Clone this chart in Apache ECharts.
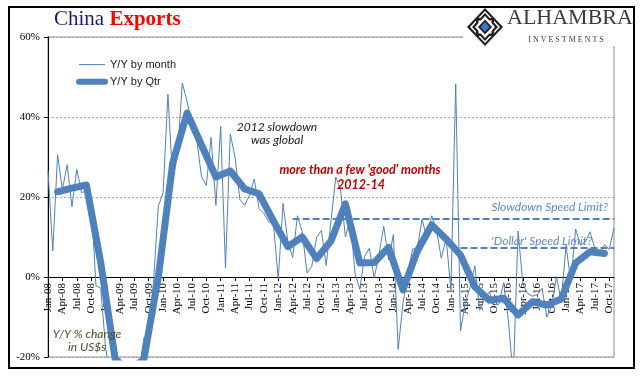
<!DOCTYPE html>
<html><head><meta charset="utf-8">
<script src="https://cdn.jsdelivr.net/npm/echarts@6/dist/echarts.min.js"></script>
<style>html,body{margin:0;padding:0;background:#fff}#c{width:641px;height:381px}</style>
</head><body><div id="c"></div>
<script>
// ---- categories ----
const monthNames = ['Jan','Feb','Mar','Apr','May','Jun','Jul','Aug','Sep','Oct','Nov','Dec'];
const years = ['08','09','10','11','12','13','14','15','16','17'];
const quarterEndMonths = ['Mar','Jun','Sep','Dec'];

// ---- monthly Y/Y % ----
const m2008 = [26.6, 6.5, 30.6, 21.8, 28.1, 17.6, 26.9, 21.1, 21.5, 19.2, -2.2, -2.8];
const m2009 = [-17.5, -25.7, -17.1, -22.6, -26.4, -21.4, -23.0, -23.4, -15.2, -13.8, -1.2, 17.7];
const m2010 = [21.0, 45.7, 24.3, 30.5, 48.5, 43.9, 38.1, 34.4, 25.1, 22.9, 34.9, 17.9];
const m2011 = [37.7, 2.3, 35.8, 29.9, 19.4, 17.9, 20.4, 24.5, 17.1, 15.9, 13.8, 13.4];
const m2012 = [-0.5, 18.4, 8.9, 4.9, 15.3, 11.3, 1.0, 2.7, 9.9, 11.6, 2.9, 14.1];
const m2013 = [25.0, 21.8, 10.0, 14.7, 1.0, -3.1, 5.1, 7.2, -0.3, 5.6, 12.7, 4.3];
const m2014 = [10.6, -18.1, -6.6, 0.9, 7.0, 7.2, 14.5, 9.4, 15.3, 11.6, 4.7, 9.7];
const m2015 = [-3.3, 48.3, -13.5, -6.4, -2.5, 2.8, -8.3, -5.5, -3.7, -6.9, -6.8, -1.4];
const m2016 = [-11.2, -25.4, 11.5, -1.8, -4.1, -4.8, -4.4, -2.8, -10.0, -7.3, 0.1, -6.1];
const m2017 = [7.9, -1.3, 12.0, 8.0, 8.7, 11.3, 7.2, 5.5, 8.1, 6.9, 12.3];

// ---- quarterly Y/Y % (quarter-end months) ----
const q2008 = [21.3, 22.2, 23.0, 3.5];
const q2009 = [-20.5, -23.5, -20.5, 0.0];
const q2010 = [28.5, 41.0, 33.0, 25.0];
const q2011 = [26.5, 22.0, 20.8, 14.0];
const q2012 = [7.6, 10.0, 4.6, 9.0];
const q2013 = [18.3, 3.5, 3.6, 7.4];
const q2014 = [-3.2, 6.5, 13.0, 9.5];
const q2015 = [5.5, -2.5, -5.8, -5.3];
const q2016 = [-9.5, -6.2, -7.0, -5.5];
const q2017 = [3.5, 6.3, 5.9];

// ---- reference lines ----
const slowdownLimit = {from: 'Apr-12', value: 14.5};
const dollarLimit = {from: 'Mar-15', value: 7.3};

const yTicks = {min: -20, max: 60, interval: 20};

// ---- build ----
const monthly = [m2008,m2009,m2010,m2011,m2012,m2013,m2014,m2015,m2016,m2017];
const quarterly = [q2008,q2009,q2010,q2011,q2012,q2013,q2014,q2015,q2016,q2017];
const categories = [];
const monthValues = [];
monthly.forEach((arr, yi) => arr.forEach((v, mi) => {
  categories.push(monthNames[mi] + '-' + years[yi]);
  monthValues.push(v);
}));
const qtrData = [];
quarterly.forEach((arr, yi) => arr.forEach((v, qi) => {
  qtrData.push([quarterEndMonths[qi] + '-' + years[yi], v]);
}));
const lastCat = categories[categories.length - 1];

const BLUE = '#4f81bd';
const chart = echarts.init(document.getElementById('c'), null, {renderer: 'canvas'});

const cx = 485, cy = 27;
function dia(sx, sy) { return [[cx, cy - sy], [cx + sx, cy], [cx, cy + sy], [cx - sx, cy]]; }
function sq(h) { return [[cx - h, cy - h], [cx + h, cy - h], [cx + h, cy + h], [cx - h, cy + h]]; }

chart.setOption({
  animation: false,
  backgroundColor: '#fff',
  grid: {left: 48, right: 27, top: 37, bottom: 24, show: true, borderColor: '#8c8c8c', borderWidth: 1,
         containLabel: false, outerBoundsMode: 'none'},
  legend: {
    left: 71, top: 54, orient: 'vertical', itemWidth: 26, itemHeight: 14, itemGap: 6,
    itemStyle: {opacity: 0},
    textStyle: {fontFamily: 'Liberation Sans', fontSize: 11, color: '#1a1a1a'},
    data: [
      {name: 'Y/Y by month', lineStyle: {width: 1, color: BLUE}},
      {name: 'Y/Y by Qtr', lineStyle: {width: 6, color: BLUE, cap: 'round'}}
    ]
  },
  xAxis: {
    type: 'category', data: categories, boundaryGap: false, position: 'bottom', offset: -80,
    axisLine: {onZero: false, lineStyle: {color: '#000', width: 1}},
    axisTick: {show: true, interval: 2, length: 4, lineStyle: {color: '#000'}},
    axisLabel: {interval: 2, rotate: 90, margin: 6, fontFamily: 'Liberation Serif', fontSize: 11, color: '#000'},
    splitLine: {show: false}
  },
  yAxis: {
    type: 'value', min: yTicks.min, max: yTicks.max, interval: yTicks.interval,
    axisLine: {show: true, lineStyle: {color: '#000', width: 1}},
    axisTick: {show: true, length: 4, lineStyle: {color: '#000'}},
    axisLabel: {formatter: '{value}%', margin: 8, fontFamily: 'Liberation Serif', fontSize: 11, color: '#000'},
    splitLine: {show: true, lineStyle: {color: '#a6a6a6', type: [2, 2], width: 1}}
  },
  series: [
    {
      name: 'Y/Y by Qtr', type: 'line', data: qtrData, symbol: 'none', z: 3,
      lineStyle: {color: BLUE, width: 7, cap: 'round', join: 'round'}, itemStyle: {color: BLUE},
      markLine: {
        silent: true, symbol: 'none', label: {show: false},
        lineStyle: {color: BLUE, width: 2, type: [7, 3]},
        data: [
          [{coord: [slowdownLimit.from, slowdownLimit.value]}, {coord: [lastCat, slowdownLimit.value]}],
          [{coord: [dollarLimit.from, dollarLimit.value]}, {coord: [lastCat, dollarLimit.value]}]
        ]
      }
    },
    {
      name: 'Y/Y by month', type: 'line', data: monthValues, symbol: 'none', z: 4,
      lineStyle: {color: BLUE, width: 1}, itemStyle: {color: BLUE}
    }
  ],
  graphic: [
    {type: 'rect', z: 100, shape: {x: 463, y: 9, width: 154, height: 37}, style: {fill: '#fff'}},
    {type: 'rect', z: 110, shape: {x: 9, y: 7, width: 625, height: 361}, style: {fill: 'none', stroke: '#000', lineWidth: 2}},
    {type: 'text', z: 110, x: 54, y: 30, style: {
      text: '{a|China }{b|Exports}', textVerticalAlign: 'bottom',
      rich: {
        a: {fontFamily: 'Liberation Serif', fontSize: 21, fill: '#1b1a7a', color: '#1b1a7a'},
        b: {fontFamily: 'Liberation Serif', fontSize: 21, fontWeight: 'bold', fill: '#ff0000', color: '#ff0000'}
      }}},
    // logo
    {type: 'polygon', z: 110, shape: {points: dia(18, 19)}, style: {fill: '#231f20'}},
    {type: 'polygon', z: 111, shape: {points: dia(15, 16)}, style: {fill: '#fff'}},
    {type: 'polygon', z: 112, shape: {points: dia(13, 14)}, style: {fill: '#231f20'}},
    {type: 'polygon', z: 112, shape: {points: sq(9)}, style: {fill: '#231f20'}},
    {type: 'polygon', z: 113, shape: {points: dia(10, 11)}, style: {fill: '#fff'}},
    {type: 'polygon', z: 113, shape: {points: sq(6.5)}, style: {fill: '#fff'}},
    {type: 'polygon', z: 114, shape: {points: dia(7, 7.5)}, style: {fill: '#231f20'}},
    {type: 'polygon', z: 115, shape: {points: dia(4.5, 5)}, style: {fill: '#3a78c9'}},
    {type: 'text', z: 110, x: 507, y: 29, style: {text: 'ALHAMBRA', font: '22px "Liberation Serif"', fill: '#3a3a3a', textVerticalAlign: 'bottom'}},
    {type: 'text', z: 110, x: 566, y: 40, style: {text: 'I N V E S T M E N T S', font: '8px "Liberation Serif"', fill: '#3a3a3a', textAlign: 'center', textVerticalAlign: 'middle'}},
    // annotations
    {type: 'text', z: 110, x: 277, y: 127, style: {text: '2012 slowdown', font: 'italic 12px Lato', fill: '#1a1a1a', textAlign: 'center', textVerticalAlign: 'middle'}},
    {type: 'text', z: 110, x: 277, y: 140, style: {text: 'was global', font: 'italic 12px Lato', fill: '#1a1a1a', textAlign: 'center', textVerticalAlign: 'middle'}},
    {type: 'text', z: 110, x: 360, y: 170, style: {text: "more than a few 'good' months", font: 'italic bold 12.5px Lato', fill: '#c00000', textAlign: 'center', textVerticalAlign: 'middle'}},
    {type: 'text', z: 110, x: 361, y: 185, style: {text: '2012-14', font: 'italic bold 12.5px Lato', fill: '#c00000', textAlign: 'center', textVerticalAlign: 'middle'}},
    {type: 'text', z: 110, x: 608, y: 207, style: {text: 'Slowdown Speed Limit?', font: 'italic 12px Lato', fill: '#5b8bd0', textAlign: 'right', textVerticalAlign: 'middle'}},
    {type: 'text', z: 110, x: 592, y: 241, style: {text: "'Dollar' Speed Limit?", font: 'italic 12px Lato', fill: '#5b8bd0', textAlign: 'right', textVerticalAlign: 'middle'}},
    {type: 'text', z: 110, x: 87, y: 334, style: {text: 'Y/Y % change', font: 'italic 12px Lato', fill: '#4f4a28', textAlign: 'center', textVerticalAlign: 'middle'}},
    {type: 'text', z: 110, x: 87, y: 347, style: {text: 'in US$s', font: 'italic 12px Lato', fill: '#4f4a28', textAlign: 'center', textVerticalAlign: 'middle'}}
  ]
});
</script></body></html>
